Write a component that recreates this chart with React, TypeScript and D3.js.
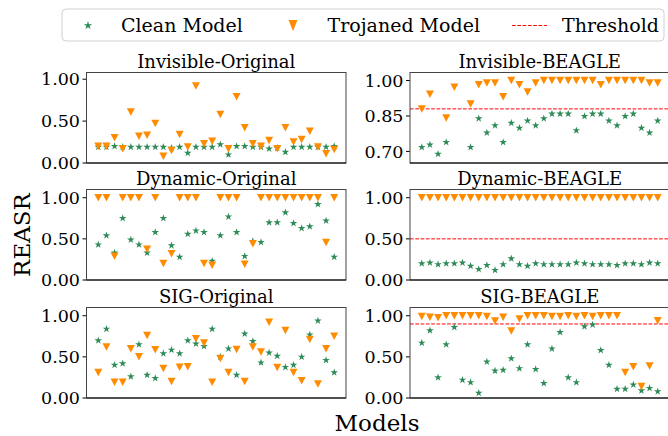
import React from "react";
import * as d3 from "d3";

// 30 models per panel, x = model index
const models = d3.range(30);

// Invisible trigger
const invOrigClean = [0.19, 0.19, 0.2, 0.19, 0.19, 0.19, 0.19, 0.19, 0.19, 0.18, 0.19, 0.12, 0.19, 0.19, 0.19, 0.22, 0.1, 0.2, 0.2, 0.19, 0.19, 0.17, 0.18, 0.13, 0.19, 0.19, 0.19, 0.19, 0.19, 0.2];
const invOrigTrojan = [0.2, 0.2, 0.3, 0.17, 0.61, 0.32, 0.33, 0.47, 0.08, 0.15, 0.34, 0.19, 0.92, 0.23, 0.26, 0.58, 0.17, 0.79, 0.42, 0.23, 0.2, 0.27, 0.17, 0.42, 0.25, 0.28, 0.38, 0.19, 0.11, 0.16];
const invBeagleClean = [0.718, 0.728, 0.689, 0.739, null, null, 0.718, 0.839, 0.779, 0.81, 0.739, 0.82, 0.799, 0.83, 0.81, 0.839, 0.859, 0.859, 0.859, 0.789, 0.849, 0.859, 0.859, 0.83, 0.81, 0.849, 0.859, 0.799, 0.779, 0.83];
const invBeagleTrojan = [0.88, 0.942, null, 0.841, 0.972, null, 0.901, 0.982, 0.99, 0.99, 0.931, 1.0, 0.982, 0.952, 0.99, 1.0, 1.0, 1.0, 1.0, 1.0, 1.0, 1.0, 0.982, 1.0, 1.0, 1.0, 1.0, 1.0, 0.99, 0.99];

// Dynamic trigger
const dynOrigClean = [0.43, 0.54, 0.33, 0.75, 0.49, 0.43, 0.33, 0.58, 0.75, 0.42, 0.28, 0.56, 0.6, 0.58, 0.23, 0.54, 0.77, 0.58, 0.29, 0.47, 0.46, 0.7, 0.7, 0.82, 0.69, 0.63, 0.65, 0.92, 0.72, 0.28];
const dynOrigTrojan = [1, 1, 0.29, 1, 1, 1, 0.375, 1, 0.2, 0.32, 1, 1, 1, 0.2, 0.18, 1, 1, 1, 0.19, 0.44, 1, 1, 1, 1, 1, 1, 1, 1, 0.456, 1];
const dynBeagleClean = [0.2, 0.21, 0.19, 0.2, 0.2, 0.21, 0.17, 0.13, 0.18, 0.12, 0.19, 0.26, 0.19, 0.17, 0.2, 0.19, 0.19, 0.19, 0.19, 0.21, 0.2, 0.19, 0.19, 0.19, 0.18, 0.2, 0.2, 0.19, 0.21, 0.2];
const dynBeagleTrojan = models.map(() => 1.0);

// SIG trigger
const sigOrigClean = [0.7, 0.84, 0.4, 0.42, 0.26, 0.65, 0.28, 0.24, 0.54, 0.585, 0.54, 0.7, 0.66, 0.63, 0.84, 0.5, 0.6, 0.28, 0.78, 0.69, 0.43, 0.55, 0.51, 0.375, 0.4, 0.5, 0.77, 0.94, 0.46, 0.31];
const sigOrigTrojan = [0.31, 0.62, 0.19, 0.19, 0.6, 0.5, 0.76, 0.585, 0.36, 0.2, 0.375, 0.38, 0.72, 0.67, 0.19, 0.48, 0.31, 0.59, 0.2, 0.62, 0.56, 0.92, 0.37, 0.82, 0.31, 0.21, 0.71, 0.17, 0.6, 0.75];
const sigBeagleClean = [0.67, 0.82, 0.25, 0.65, 0.86, 0.22, 0.19, 0.06, 0.44, 0.33, 0.34, 0.48, 0.36, 0.65, 0.35, 0.18, 0.6, 0.8, 0.25, 0.19, 0.87, 0.89, 0.58, 0.4, 0.11, 0.11, 0.16, 0.09, 0.12, 0.08];
const sigBeagleTrojan = [0.99, 0.98, 0.976, 1.0, 1.0, 1.0, 1.0, 1.0, 0.99, 0.935, 0.98, 0.815, 0.96, 1.0, 1.0, 1.0, 0.99, 0.99, 1.0, 0.99, 1.0, 0.99, 1.0, 1.0, 1.0, 0.31, 0.38, 0.14, 0.39, 0.94];

const ticksStd = [0, 0.5, 1.0];
const ticksInvBeagle = [0.7, 0.85, 1.0];

const panels = [
  { title: "Invisible-Original", clean: invOrigClean, trojan: invOrigTrojan, domain: [0, 1.08], ticks: ticksStd, threshold: null, row: 0, col: 0 },
  { title: "Invisible-BEAGLE", clean: invBeagleClean, trojan: invBeagleTrojan, domain: [0.651, 1.034], ticks: ticksInvBeagle, threshold: 0.88, row: 0, col: 1 },
  { title: "Dynamic-Original", clean: dynOrigClean, trojan: dynOrigTrojan, domain: [0, 1.1], ticks: ticksStd, threshold: null, row: 1, col: 0 },
  { title: "Dynamic-BEAGLE", clean: dynBeagleClean, trojan: dynBeagleTrojan, domain: [0, 1.1], ticks: ticksStd, threshold: 0.5, row: 1, col: 1 },
  { title: "SIG-Original", clean: sigOrigClean, trojan: sigOrigTrojan, domain: [0, 1.1], ticks: ticksStd, threshold: null, row: 2, col: 0 },
  { title: "SIG-BEAGLE", clean: sigBeagleClean, trojan: sigBeagleTrojan, domain: [0, 1.1], ticks: ticksStd, threshold: 0.9, row: 2, col: 1 },
];

const GREEN = "#2e8b57";
const ORANGE = "#ff8c00";
const FONT = "DejaVu Serif";

const colX = [86.5, 410];
const rowY = [72.5, 189.5, 307.5];
const panelW = 259.5;
const panelH = 90.5;

const starPath = d3.symbol(d3.symbolStar, 18)();
const starPathBig = d3.symbol(d3.symbolStar, 22)();
const triPath = (w: number, h: number) =>
  `M0,${h / 2}L${-w / 2},${-h / 2}L${w / 2},${-h / 2}Z`;

const Panel = ({ p }: { p: (typeof panels)[number] }) => {
  const x = d3.scaleLinear().domain([-1.45, 30.45]).range([0, panelW]);
  const y = d3.scaleLinear().domain(p.domain).range([panelH, 0]);
  return (
    <g transform={`translate(${colX[p.col]},${rowY[p.row]})`}>
      <text x={panelW / 2} y={-4.5} textAnchor="middle" fontSize={18} fontFamily={FONT}>
        {p.title}
      </text>
      {p.ticks.map((t) => (
        <g key={t} transform={`translate(0,${y(t)})`}>
          <line x1={-4} x2={0} stroke="#000" strokeWidth={1} />
          <text x={-6.5} dy="0.35em" textAnchor="end" fontSize={17.5} fontFamily={FONT}>
            {t.toFixed(2)}
          </text>
        </g>
      ))}
      {p.threshold != null && (
        <line x1={0} x2={panelW} y1={y(p.threshold)} y2={y(p.threshold)} stroke="red" strokeWidth={1} strokeDasharray="3.7,1.6" />
      )}
      {p.clean.map((v, i) =>
        v == null ? null : (
          <path key={"c" + i} d={starPath!} transform={`translate(${x(i)},${y(v)})`} fill={GREEN} />
        )
      )}
      {p.trojan.map((v, i) =>
        v == null ? null : (
          <path key={"t" + i} d={triPath(8, 7.5)} transform={`translate(${x(i)},${y(v)})`} fill={ORANGE} />
        )
      )}
      <rect x={0} y={0} width={panelW} height={panelH} fill="none" stroke="#444" strokeWidth={1} />
      <line x1={0} x2={panelW} y1={panelH} y2={panelH} stroke="#000" strokeWidth={1.2} />
    </g>
  );
};

export default function App() {
  return (
    <svg width={668} height={436} style={{ position: "absolute", left: 0, top: 0, background: "#fff" }}>
      <rect width={668} height={436} fill="#fff" />
      {/* legend */}
      <g>
        <rect x={62} y={9} width={602} height={32} rx={4} fill="#fff" stroke="#d0d0d0" strokeWidth={1} />
        <path d={starPathBig!} transform="translate(88,25.5)" fill={GREEN} />
        <text x={121} y={31.5} fontSize={19} fontFamily={FONT}>Clean Model</text>
        <path d={triPath(9, 11)} transform="translate(293,25.5)" fill={ORANGE} />
        <text x={327.5} y={31.5} fontSize={19} fontFamily={FONT}>Trojaned Model</text>
        <line x1={512} x2={547} y1={25.5} y2={25.5} stroke="#ff0000" strokeWidth={1} strokeDasharray="3.7,1.6" />
        <text x={562} y={31.5} fontSize={19} fontFamily={FONT}>Threshold</text>
      </g>
      {panels.map((p) => (
        <Panel key={p.title} p={p} />
      ))}
      <text transform="translate(30,235) rotate(-90)" textAnchor="middle" fontSize={23} fontFamily={FONT}>
        REASR
      </text>
      <text x={377} y={431} textAnchor="middle" fontSize={23} fontFamily={FONT}>
        Models
      </text>
    </svg>
  );
}
